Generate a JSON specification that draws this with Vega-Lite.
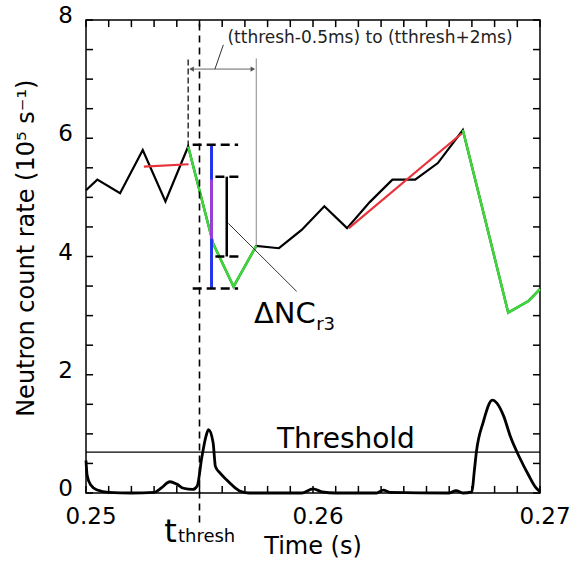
{
  "$schema": "https://vega.github.io/schema/vega-lite/v6.json",
  "width": 454,
  "height": 473,
  "autosize": {"type": "none"},
  "padding": {"left": 86, "top": 20, "right": 33, "bottom": 76},
  "background": "white",
  "config": {
    "view": {"stroke": "black", "strokeWidth": 1.5},
    "font": "DejaVu Sans"
  },
  "datasets": {
    "upper": [
      {"t": 0.25, "v": 5.12}, {"t": 0.2505, "v": 5.3}, {"t": 0.2515, "v": 5.07}, {"t": 0.2525, "v": 5.8},
      {"t": 0.2535, "v": 4.93}, {"t": 0.2545, "v": 5.86}, {"t": 0.2556, "v": 4.22}, {"t": 0.2565, "v": 3.49},
      {"t": 0.2575, "v": 4.18}, {"t": 0.2585, "v": 4.14}, {"t": 0.2595, "v": 4.45}, {"t": 0.2605, "v": 4.85},
      {"t": 0.2615, "v": 4.48}, {"t": 0.2625, "v": 4.92}, {"t": 0.2635, "v": 5.3}, {"t": 0.2645, "v": 5.3},
      {"t": 0.2655, "v": 5.58}, {"t": 0.2666, "v": 6.14}, {"t": 0.2676, "v": 4.6}, {"t": 0.2686, "v": 3.05},
      {"t": 0.2695, "v": 3.25}, {"t": 0.27, "v": 3.45}
    ],
    "green": [
      {"seg": "a", "t": 0.2545, "v": 5.86}, {"seg": "a", "t": 0.2556, "v": 4.22}, {"seg": "a", "t": 0.2565, "v": 3.49}, {"seg": "a", "t": 0.2575, "v": 4.18},
      {"seg": "b", "t": 0.2666, "v": 6.14}, {"seg": "b", "t": 0.2676, "v": 4.6}, {"seg": "b", "t": 0.2686, "v": 3.05}, {"seg": "b", "t": 0.2695, "v": 3.25}, {"seg": "b", "t": 0.27, "v": 3.45}
    ],
    "red": [
      {"seg": "a", "t": 0.25255, "v": 5.52}, {"seg": "a", "t": 0.25452, "v": 5.56},
      {"seg": "b", "t": 0.26158, "v": 4.48}, {"seg": "b", "t": 0.26655, "v": 6.08}
    ],
    "lower": [
      {"t": 0.25, "v": 0.55}, {"t": 0.25005, "v": 0.3}, {"t": 0.2502, "v": 0.14}, {"t": 0.2505, "v": 0.05},
      {"t": 0.251, "v": 0.01}, {"t": 0.252, "v": 0.0}, {"t": 0.253, "v": 0.01}, {"t": 0.2533, "v": 0.08},
      {"t": 0.2537, "v": 0.19}, {"t": 0.254, "v": 0.15}, {"t": 0.2543, "v": 0.08}, {"t": 0.2547, "v": 0.06},
      {"t": 0.2549, "v": 0.12}, {"t": 0.2551, "v": 0.6}, {"t": 0.2553, "v": 0.98}, {"t": 0.2554, "v": 1.07},
      {"t": 0.2556, "v": 0.85}, {"t": 0.2557, "v": 0.45}, {"t": 0.2559, "v": 0.34}, {"t": 0.2562, "v": 0.22},
      {"t": 0.2566, "v": 0.08}, {"t": 0.2568, "v": 0.03}, {"t": 0.2572, "v": 0.0}, {"t": 0.2595, "v": 0.0},
      {"t": 0.26, "v": 0.07}, {"t": 0.2604, "v": 0.02}, {"t": 0.261, "v": 0.0}, {"t": 0.2628, "v": 0.0},
      {"t": 0.2631, "v": 0.05}, {"t": 0.2634, "v": 0.01}, {"t": 0.266, "v": 0.0}, {"t": 0.2663, "v": 0.04},
      {"t": 0.2666, "v": 0.0}, {"t": 0.267, "v": 0.02}, {"t": 0.2671, "v": 0.35}, {"t": 0.2672, "v": 0.7},
      {"t": 0.2675, "v": 1.2}, {"t": 0.2679, "v": 1.57}, {"t": 0.2681, "v": 1.52}, {"t": 0.2684, "v": 1.3},
      {"t": 0.2687, "v": 0.95}, {"t": 0.2691, "v": 0.6}, {"t": 0.2695, "v": 0.3}, {"t": 0.2698, "v": 0.1},
      {"t": 0.27, "v": 0.02}
    ],
    "xt": [
      {"t": 0.25}, {"t": 0.251}, {"t": 0.252}, {"t": 0.253}, {"t": 0.254}, {"t": 0.255}, {"t": 0.256}, {"t": 0.257}, {"t": 0.258}, {"t": 0.259}, {"t": 0.26},
      {"t": 0.261}, {"t": 0.262}, {"t": 0.263}, {"t": 0.264}, {"t": 0.265}, {"t": 0.266}, {"t": 0.267}, {"t": 0.268}, {"t": 0.269}, {"t": 0.27}
    ],
    "yt": [
      {"v": 0}, {"v": 0.5}, {"v": 1}, {"v": 1.5}, {"v": 2}, {"v": 2.5}, {"v": 3}, {"v": 3.5}, {"v": 4},
      {"v": 4.5}, {"v": 5}, {"v": 5.5}, {"v": 6}, {"v": 6.5}, {"v": 7}, {"v": 7.5}, {"v": 8}
    ],
    "xlabels": [
      {"t": 0.25, "text": "0.25"}, {"t": 0.26, "text": "0.26"}, {"t": 0.27, "text": "0.27"}
    ],
    "ylabels": [
      {"v": 0, "text": "0"}, {"v": 2, "text": "2"}, {"v": 4, "text": "4"}, {"v": 6, "text": "6"}, {"v": 8, "text": "8"}
    ],
    "titles": [
      {"role": "x", "t": 0.26, "v": 0, "text": "Time (s)"},
      {"role": "y", "t": 0.24738, "v": 4.14, "text": "Neutron count rate (10⁵ s⁻¹)"}
    ],
    "vr": [
      {"name": "thresh", "t": 0.255, "v1": -0.5, "v2": 8},
      {"name": "dash2", "t": 0.2545, "v1": 5.86, "v2": 7.35},
      {"name": "gray", "t": 0.2575, "v1": 4.17, "v2": 7.35},
      {"name": "blue", "t": 0.25553, "v1": 3.46, "v2": 5.89},
      {"name": "purple", "t": 0.25553, "v1": 4.3, "v2": 5.3},
      {"name": "bracket", "t": 0.2562, "v1": 4.0, "v2": 5.35}
    ],
    "hr": [
      {"name": "threshold", "v": 0.69, "t1": 0.25, "t2": 0.27},
      {"name": "cap", "v": 5.89, "t1": 0.2547, "t2": 0.2567},
      {"name": "cap", "v": 5.35, "t1": 0.2557, "t2": 0.2569},
      {"name": "cap", "v": 4.0, "t1": 0.2557, "t2": 0.2569},
      {"name": "cap", "v": 3.46, "t1": 0.2547, "t2": 0.2567},
      {"name": "arrow", "v": 7.17, "t1": 0.2546, "t2": 0.2574}
    ],
    "lead": [
      {"seg": "a", "t": 0.25627, "v": 4.56}, {"seg": "a", "t": 0.25928, "v": 3.41},
      {"seg": "b", "t": 0.25605, "v": 7.58}, {"seg": "b", "t": 0.25568, "v": 7.17}
    ],
    "heads": [
      {"dir": "left", "t": 0.25465, "v": 7.17},
      {"dir": "right", "t": 0.25735, "v": 7.17}
    ],
    "labels": [
      {"role": "top", "t": 0.26251, "v": 7.7, "text": "(tthresh-0.5ms) to (tthresh+2ms)"},
      {"role": "big", "t": 0.2574, "v": 2.88, "text": "ΔNC"},
      {"role": "sub", "t": 0.26014, "v": 2.76, "text": "r3"},
      {"role": "thr", "t": 0.25841, "v": 0.76, "text": "Threshold"},
      {"role": "tbig", "t": 0.25345, "v": -0.83, "text": "t"},
      {"role": "tsub", "t": 0.25405, "v": -0.83, "text": "thresh"}
    ]
  },
  "layer": [
    {
      "data": {"name": "lower"},
      "mark": {"type": "line", "color": "black", "strokeWidth": 2.8, "interpolate": "monotone"},
      "encoding": {
        "x": {"field": "t", "type": "quantitative", "scale": {"domain": [0.25, 0.27], "nice": false, "zero": false}, "axis": null},
        "y": {"field": "v", "type": "quantitative", "scale": {"domain": [0, 8], "nice": false, "zero": false}, "axis": null}
      }
    },
    {
      "data": {"name": "xt"},
      "mark": {"type": "rule", "color": "black", "strokeWidth": 1.5},
      "encoding": {
        "x": {"field": "t", "type": "quantitative", "axis": null},
        "y": {"datum": 0, "type": "quantitative", "axis": null},
        "y2": {"datum": 0.12}
      }
    },
    {
      "data": {"name": "xt"},
      "mark": {"type": "rule", "color": "black", "strokeWidth": 1.5},
      "encoding": {
        "x": {"field": "t", "type": "quantitative", "axis": null},
        "y": {"datum": 7.88, "type": "quantitative", "axis": null},
        "y2": {"datum": 8}
      }
    },
    {
      "data": {"name": "yt"},
      "mark": {"type": "rule", "color": "black", "strokeWidth": 1.5},
      "encoding": {
        "y": {"field": "v", "type": "quantitative", "axis": null},
        "x": {"datum": 0.25, "type": "quantitative", "axis": null},
        "x2": {"datum": 0.25031}
      }
    },
    {
      "data": {"name": "yt"},
      "mark": {"type": "rule", "color": "black", "strokeWidth": 1.5},
      "encoding": {
        "y": {"field": "v", "type": "quantitative", "axis": null},
        "x": {"datum": 0.26969, "type": "quantitative", "axis": null},
        "x2": {"datum": 0.27}
      }
    },
    {
      "data": {"name": "xlabels"},
      "mark": {"type": "text", "fontSize": 23, "align": "center", "baseline": "top", "dy": 13, "dx": 5, "color": "black"},
      "encoding": {
        "x": {"field": "t", "type": "quantitative", "axis": null},
        "y": {"datum": 0, "type": "quantitative", "axis": null},
        "text": {"field": "text"}
      }
    },
    {
      "data": {"name": "ylabels"},
      "mark": {"type": "text", "fontSize": 23, "align": "right", "baseline": "middle", "dx": -13, "dy": -4, "color": "black"},
      "encoding": {
        "y": {"field": "v", "type": "quantitative", "axis": null},
        "x": {"datum": 0.25, "type": "quantitative", "axis": null},
        "text": {"field": "text"}
      }
    },
    {
      "data": {"name": "titles"},
      "transform": [{"filter": "datum.role == 'x'"}],
      "mark": {"type": "text", "fontSize": 24, "align": "center", "baseline": "top", "dy": 42, "color": "black"},
      "encoding": {
        "x": {"field": "t", "type": "quantitative", "axis": null},
        "y": {"field": "v", "type": "quantitative", "axis": null},
        "text": {"field": "text"}
      }
    },
    {
      "data": {"name": "titles"},
      "transform": [{"filter": "datum.role == 'y'"}],
      "mark": {"type": "text", "fontSize": 24, "align": "center", "baseline": "middle", "angle": 270, "color": "black"},
      "encoding": {
        "x": {"field": "t", "type": "quantitative", "axis": null},
        "y": {"field": "v", "type": "quantitative", "axis": null},
        "text": {"field": "text"}
      }
    },
    {
      "data": {"name": "upper"},
      "mark": {"type": "line", "color": "black", "strokeWidth": 2.2},
      "encoding": {
        "x": {"field": "t", "type": "quantitative", "axis": null},
        "y": {"field": "v", "type": "quantitative", "axis": null}
      }
    },
    {
      "data": {"name": "red"},
      "mark": {"type": "line", "color": "#e8333a", "strokeWidth": 2.2},
      "encoding": {
        "x": {"field": "t", "type": "quantitative", "axis": null},
        "y": {"field": "v", "type": "quantitative", "axis": null},
        "detail": {"field": "seg"}
      }
    },
    {
      "data": {"name": "green"},
      "mark": {"type": "line", "color": "#3dd63d", "strokeWidth": 2.6},
      "encoding": {
        "x": {"field": "t", "type": "quantitative", "axis": null},
        "y": {"field": "v", "type": "quantitative", "axis": null},
        "detail": {"field": "seg"}
      }
    },
    {
      "data": {"name": "hr"},
      "transform": [{"filter": "datum.name == 'threshold'"}],
      "mark": {"type": "rule", "color": "black", "strokeWidth": 1.2},
      "encoding": {
        "y": {"field": "v", "type": "quantitative", "axis": null},
        "x": {"field": "t1", "type": "quantitative", "axis": null},
        "x2": {"field": "t2"}
      }
    },
    {
      "data": {"name": "hr"},
      "transform": [{"filter": "datum.name == 'arrow'"}],
      "mark": {"type": "rule", "color": "#666666", "strokeWidth": 1},
      "encoding": {
        "y": {"field": "v", "type": "quantitative", "axis": null},
        "x": {"field": "t1", "type": "quantitative", "axis": null},
        "x2": {"field": "t2"}
      }
    },
    {
      "data": {"name": "vr"},
      "transform": [{"filter": "datum.name == 'thresh'"}],
      "mark": {"type": "rule", "color": "black", "strokeWidth": 1.6, "strokeDash": [7, 5]},
      "encoding": {
        "x": {"field": "t", "type": "quantitative", "axis": null},
        "y": {"field": "v1", "type": "quantitative", "axis": null},
        "y2": {"field": "v2"}
      }
    },
    {
      "data": {"name": "vr"},
      "transform": [{"filter": "datum.name == 'dash2'"}],
      "mark": {"type": "rule", "color": "black", "strokeWidth": 1.2, "strokeDash": [6, 3]},
      "encoding": {
        "x": {"field": "t", "type": "quantitative", "axis": null},
        "y": {"field": "v1", "type": "quantitative", "axis": null},
        "y2": {"field": "v2"}
      }
    },
    {
      "data": {"name": "vr"},
      "transform": [{"filter": "datum.name == 'gray'"}],
      "mark": {"type": "rule", "color": "#888888", "strokeWidth": 1},
      "encoding": {
        "x": {"field": "t", "type": "quantitative", "axis": null},
        "y": {"field": "v1", "type": "quantitative", "axis": null},
        "y2": {"field": "v2"}
      }
    },
    {
      "data": {"name": "vr"},
      "transform": [{"filter": "datum.name == 'blue'"}],
      "mark": {"type": "rule", "color": "#2233ee", "strokeWidth": 3},
      "encoding": {
        "x": {"field": "t", "type": "quantitative", "axis": null},
        "y": {"field": "v1", "type": "quantitative", "axis": null},
        "y2": {"field": "v2"}
      }
    },
    {
      "data": {"name": "vr"},
      "transform": [{"filter": "datum.name == 'purple'"}],
      "mark": {"type": "rule", "color": "#9a3fd6", "strokeWidth": 3},
      "encoding": {
        "x": {"field": "t", "type": "quantitative", "axis": null},
        "y": {"field": "v1", "type": "quantitative", "axis": null},
        "y2": {"field": "v2"}
      }
    },
    {
      "data": {"name": "vr"},
      "transform": [{"filter": "datum.name == 'bracket'"}],
      "mark": {"type": "rule", "color": "black", "strokeWidth": 2.5},
      "encoding": {
        "x": {"field": "t", "type": "quantitative", "axis": null},
        "y": {"field": "v1", "type": "quantitative", "axis": null},
        "y2": {"field": "v2"}
      }
    },
    {
      "data": {"name": "hr"},
      "transform": [{"filter": "datum.name == 'cap'"}],
      "mark": {"type": "rule", "color": "black", "strokeWidth": 2.5, "strokeDash": [9, 5]},
      "encoding": {
        "y": {"field": "v", "type": "quantitative", "axis": null},
        "x": {"field": "t1", "type": "quantitative", "axis": null},
        "x2": {"field": "t2"}
      }
    },
    {
      "data": {"name": "lead"},
      "mark": {"type": "line", "color": "#333333", "strokeWidth": 1},
      "encoding": {
        "x": {"field": "t", "type": "quantitative", "axis": null},
        "y": {"field": "v", "type": "quantitative", "axis": null},
        "detail": {"field": "seg"}
      }
    },
    {
      "data": {"name": "heads"},
      "mark": {"type": "point", "filled": true, "color": "#555555", "size": 28, "opacity": 1},
      "encoding": {
        "x": {"field": "t", "type": "quantitative", "axis": null},
        "y": {"field": "v", "type": "quantitative", "axis": null},
        "shape": {"field": "dir", "type": "nominal", "scale": {"domain": ["left", "right"], "range": ["triangle-left", "triangle-right"]}, "legend": null}
      }
    },
    {
      "data": {"name": "labels"},
      "transform": [{"filter": "datum.role == 'top'"}],
      "mark": {"type": "text", "fontSize": 17, "align": "center", "baseline": "middle", "color": "#222222"},
      "encoding": {
        "x": {"field": "t", "type": "quantitative", "axis": null},
        "y": {"field": "v", "type": "quantitative", "axis": null},
        "text": {"field": "text"}
      }
    },
    {
      "data": {"name": "labels"},
      "transform": [{"filter": "datum.role == 'big'"}],
      "mark": {"type": "text", "fontSize": 29, "align": "left", "baseline": "alphabetic", "color": "black"},
      "encoding": {
        "x": {"field": "t", "type": "quantitative", "axis": null},
        "y": {"field": "v", "type": "quantitative", "axis": null},
        "text": {"field": "text"}
      }
    },
    {
      "data": {"name": "labels"},
      "transform": [{"filter": "datum.role == 'sub'"}],
      "mark": {"type": "text", "fontSize": 18, "align": "left", "baseline": "alphabetic", "color": "black"},
      "encoding": {
        "x": {"field": "t", "type": "quantitative", "axis": null},
        "y": {"field": "v", "type": "quantitative", "axis": null},
        "text": {"field": "text"}
      }
    },
    {
      "data": {"name": "labels"},
      "transform": [{"filter": "datum.role == 'thr'"}],
      "mark": {"type": "text", "fontSize": 28, "align": "left", "baseline": "alphabetic", "color": "black"},
      "encoding": {
        "x": {"field": "t", "type": "quantitative", "axis": null},
        "y": {"field": "v", "type": "quantitative", "axis": null},
        "text": {"field": "text"}
      }
    },
    {
      "data": {"name": "labels"},
      "transform": [{"filter": "datum.role == 'tbig'"}],
      "mark": {"type": "text", "fontSize": 32, "align": "left", "baseline": "alphabetic", "color": "black"},
      "encoding": {
        "x": {"field": "t", "type": "quantitative", "axis": null},
        "y": {"field": "v", "type": "quantitative", "axis": null},
        "text": {"field": "text"}
      }
    },
    {
      "data": {"name": "labels"},
      "transform": [{"filter": "datum.role == 'tsub'"}],
      "mark": {"type": "text", "fontSize": 18, "align": "left", "baseline": "alphabetic", "color": "black"},
      "encoding": {
        "x": {"field": "t", "type": "quantitative", "axis": null},
        "y": {"field": "v", "type": "quantitative", "axis": null},
        "text": {"field": "text"}
      }
    }
  ]
}
